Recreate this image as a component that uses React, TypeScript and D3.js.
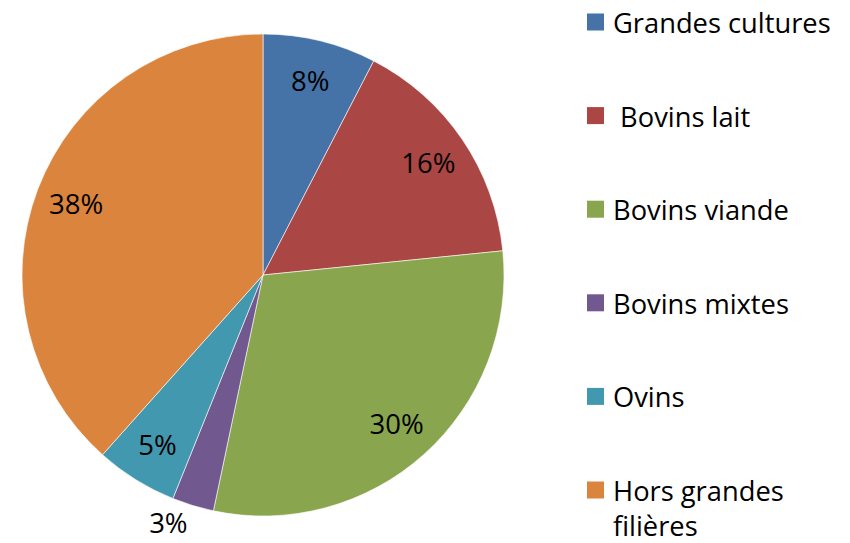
import React from "react";
import * as d3 from "d3";

const categories = ["Grandes cultures", " Bovins lait", "Bovins viande", "Bovins mixtes", "Ovins", "Hors grandes filières"];
const values = [7.6, 15.8, 29.9, 2.8, 5.5, 38.4];
const labels = ["8%", "16%", "30%", "3%", "5%", "38%"];
const colors = ["#4572A7", "#AA4643", "#89A54E", "#71588F", "#4198AF", "#DB843D"];

const W = 850, H = 543;
const cx = 263, cy = 275, R = 241;
const FONT = "'Open Sans', sans-serif";

export default function App() {
  const pie = d3.pie<number>().sort(null).value((d) => d)(values);
  const arc = d3.arc<d3.PieArcDatum<number>>().innerRadius(0).outerRadius(R);
  const labelArc = d3.arc<d3.PieArcDatum<number>>().innerRadius(R * 0.83).outerRadius(R * 0.83);
  const outArc = d3.arc<d3.PieArcDatum<number>>().innerRadius(R * 1.075).outerRadius(R * 1.075);

  const legendX = 587, legendY0 = 22, legendStep = 93.6, sq = 17;

  return (
    <svg width={W} height={H} style={{ position: "absolute", left: 0, top: 0, background: "#fff" }} fontFamily={FONT}>
      <g transform={`translate(${cx},${cy})`}>
        {pie.map((p, i) => (
          <path key={i} d={arc(p) || ""} fill={colors[i]} stroke="#fff" strokeWidth={0.6} />
        ))}
        {pie.map((p, i) => {
          const outside = p.data < 3.5;
          const [x, y] = (outside ? outArc : labelArc).centroid(p);
          const mid = (p.startAngle + p.endAngle) / 2;
          const anchor = outside ? (mid > Math.PI ? "end" : "start") : "middle";
          return (
            <text key={i} x={x} y={y} textAnchor={anchor} dominantBaseline="central" fontSize={27.5} fill="#000">
              {labels[i]}
            </text>
          );
        })}
      </g>
      <g>
        {categories.map((c, i) => {
          const y = legendY0 + i * legendStep;
          const words = c === "Hors grandes filières" ? ["Hors grandes", "filières"] : [c];
          return (
            <g key={i}>
              <rect x={legendX} y={y - sq / 2} width={sq} height={sq} fill={colors[i]} />
              <text x={legendX + 26} y={y} fontSize={27.3} fill="#000" dominantBaseline="central" xmlSpace="preserve">
                {words.map((w, j) => (
                  <tspan key={j} x={legendX + 26} dy={j === 0 ? 0 : 35} style={{ whiteSpace: "pre" }}>{w}</tspan>
                ))}
              </text>
            </g>
          );
        })}
      </g>
    </svg>
  );
}
